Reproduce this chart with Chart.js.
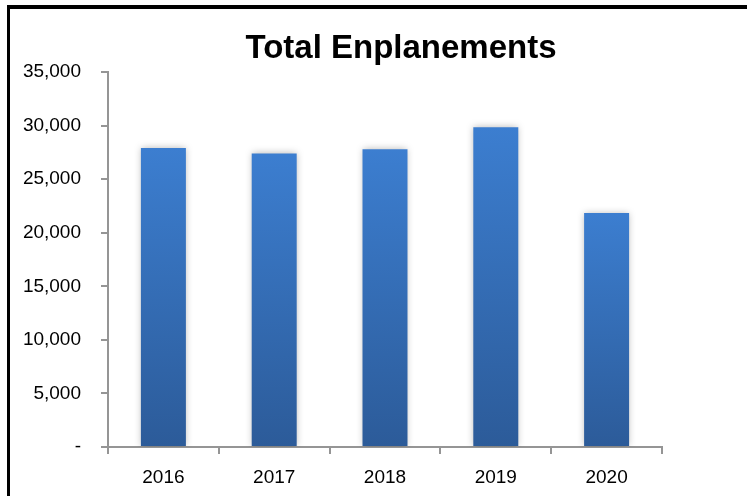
<!DOCTYPE html>
<html>
<head>
<meta charset="utf-8">
<script src="https://cdn.jsdelivr.net/npm/chart.js@4/dist/chart.umd.min.js"></script>
<style>
  html, body { margin: 0; padding: 0; background: #fff; }
  #wrap { position: relative; width: 747px; height: 496px; overflow: hidden; }
  #frame { position: absolute; left: 7px; top: 5px; width: 800px; height: 600px;
           border-top: 4px solid #000; border-left: 3px solid #000; pointer-events: none; }
  canvas { position: absolute; left: 0; top: 0; }
</style>
</head>
<body>
<div id="wrap">
  <canvas id="c" width="747" height="496"></canvas>
  <div id="frame"></div>
</div>
<script>
const chartTitle = "Total Enplanements";
const categories = ["2016", "2017", "2018", "2019", "2020"];
const enplanements = [27900, 27400, 27800, 29850, 21850];
const yMin = 0, yMax = 35000, yStep = 5000;

const FONT = "'Liberation Sans', Arial, sans-serif";
const AXIS = '#959595';

function barGradient(ctx) {
  const chart = ctx.chart;
  const area = chart.chartArea;
  if (!area || ctx.type !== 'data') return '#3a78c8';
  const ys = chart.scales.y;
  const top = ys.getPixelForValue(ctx.raw);
  const bottom = ys.getPixelForValue(0);
  const g = chart.ctx.createLinearGradient(0, top, 0, bottom);
  g.addColorStop(0, '#3c7ed0');
  g.addColorStop(1, '#2c5b99');
  return g;
}

const titlePlugin = {
  id: 'customTitle',
  afterDraw(chart) {
    const c = chart.ctx;
    c.save();
    c.font = "bold 33px " + FONT;
    c.fillStyle = '#000';
    c.textAlign = 'center';
    c.textBaseline = 'alphabetic';
    c.fillText(chartTitle, 401, 58);
    c.restore();
  }
};

const shadowPlugin = {
  id: 'barShadow',
  beforeDatasetsDraw(chart) {
    const c = chart.ctx;
    c.save();
    c.shadowColor = 'rgba(0,0,0,0.28)';
    c.shadowBlur = 7;
    c.shadowOffsetX = 0;
    c.shadowOffsetY = 0;
  },
  afterDatasetsDraw(chart) {
    chart.ctx.restore();
  }
};

new Chart(document.getElementById('c'), {
  type: 'bar',
  data: {
    labels: categories,
    datasets: [{
      data: enplanements,
      backgroundColor: barGradient,
      borderWidth: 0,
      barPercentage: 0.406,
      categoryPercentage: 1.0
    }]
  },
  options: {
    responsive: false,
    animation: false,
    devicePixelRatio: 1,
    layout: { padding: { top: 72, right: 85, left: 0, bottom: 0 } },
    plugins: { legend: { display: false }, title: { display: false }, tooltip: { enabled: false } },
    scales: {
      x: {
        afterFit(s) { s.height = 49; },
        grid: { display: true, drawOnChartArea: false, drawTicks: true, tickLength: 7, color: AXIS, lineWidth: 2, offset: true },
        border: { display: true, color: AXIS, width: 2 },
        ticks: { color: '#000', font: { family: FONT, size: 19 }, padding: 12 }
      },
      y: {
        min: yMin, max: yMax,
        afterFit(s) { s.width = 108; },
        grid: { display: true, drawOnChartArea: false, drawTicks: true, tickLength: 7, color: AXIS, lineWidth: 2 },
        border: { display: true, color: AXIS, width: 2 },
        ticks: {
          stepSize: yStep,
          color: '#000',
          padding: 20,
          font: { family: FONT, size: 19 },
          callback: v => v === 0 ? '-' : v.toLocaleString('en-US')
        }
      }
    }
  },
  plugins: [shadowPlugin, titlePlugin]
});
</script>
</body>
</html>
